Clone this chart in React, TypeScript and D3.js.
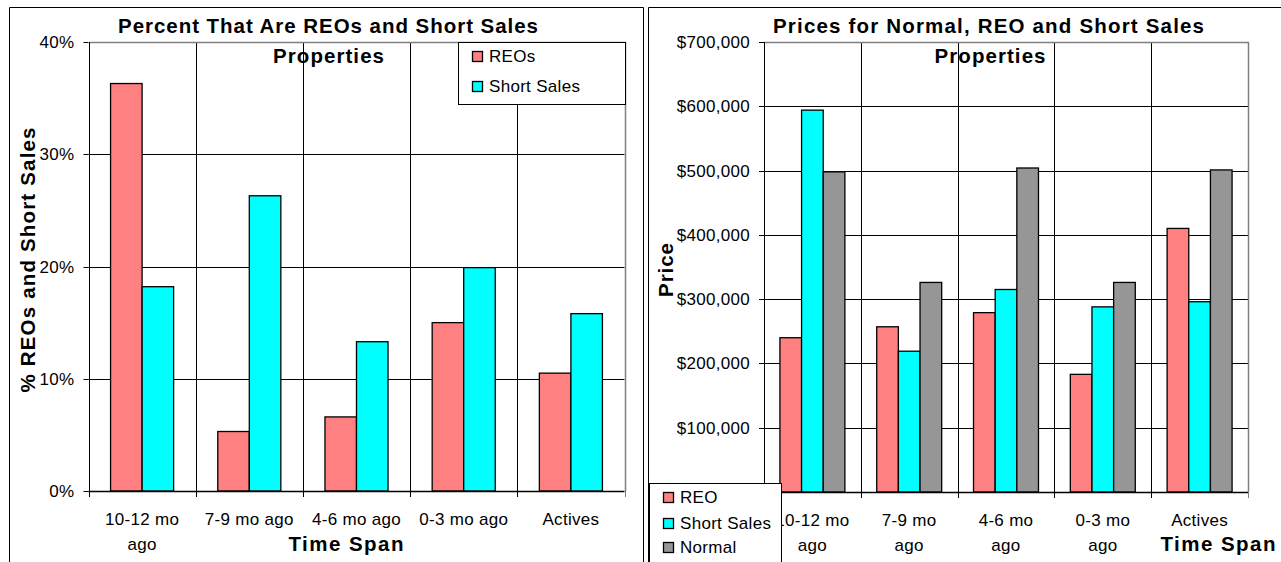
import * as d3 from "d3";

// Time spans along the x axis
const categories = ["10-12 mo ago", "7-9 mo ago", "4-6 mo ago", "0-3 mo ago", "Actives"];
const pctLabelLines = [["10-12 mo", "ago"], ["7-9 mo ago"], ["4-6 mo ago"], ["0-3 mo ago"], ["Actives"]];
const priceLabelLines = [["10-12 mo", "ago"], ["7-9 mo", "ago"], ["4-6 mo", "ago"], ["0-3 mo", "ago"], ["Actives"]];

// Left chart: percent of properties
const reoPct = [36.3, 5.3, 6.6, 15.0, 10.5];
const shortPct = [18.2, 26.3, 13.3, 19.9, 15.8];
const pctTicks = [0, 10, 20, 30, 40];

// Right chart: prices
const reoPrice = [240000, 257000, 279000, 183000, 410000];
const shortPrice = [594000, 219000, 315000, 288000, 296000];
const normalPrice = [498000, 326000, 504000, 326000, 501000];
const priceTicks = [0, 100000, 200000, 300000, 400000, 500000, 600000, 700000];

const REO = "#ff8080";
const SHORT = "#00ffff";
const NORMAL = "#969696";
const FONT = "'Liberation Sans', Arial, sans-serif";

type Series = { name: string; values: number[]; color: string };

type PanelProps = {
  frameLeft: number;
  frameRight: number;
  left: number;
  right: number;
  top: number;
  bottom: number;
  domain: [number, number];
  ticks: number[];
  fmt: (v: number) => string;
  series: Series[];
  groupPad: number;
  labelLines: string[][];
  labelBase: [number, number];
  title: string;
  titleX: number;
  titleW: number;
  subX: number;
  yLabel: string;
  yLabelX: number;
  yLabelY: number;
  yLabelW: number;
  spanX: number;
  legend: { x: number; y: number; w: number; h: number; rows: number[]; names: string[] };
};

const px = (v: number) => Math.round(v) + 0.5;

function BarPanel(p: PanelProps) {
  const x0 = d3.scaleBand().domain(categories).range([p.left, p.right]).padding(0);
  const x1 = d3
    .scaleBand()
    .domain(p.series.map((s) => s.name))
    .range([0, x0.bandwidth()])
    .paddingInner(0)
    .paddingOuter(p.groupPad);
  const y = d3.scaleLinear().domain(p.domain).range([p.bottom, p.top]);
  const edges = categories.map((c) => x0(c)!).concat([p.right]);

  return (
    <g fontFamily={FONT}>
      {/* outer chart frame */}
      <path
        d={`M${px(p.frameLeft)},600V${px(7)}H${px(p.frameRight)}V600`}
        fill="none"
        stroke="#000"
        strokeWidth={1}
      />

      {/* horizontal gridlines */}
      {p.ticks.slice(1, -1).map((t) => (
        <line key={"h" + t} x1={p.left} x2={p.right} y1={px(y(t))} y2={px(y(t))} stroke="#000" strokeWidth={1} />
      ))}
      {/* vertical gridlines + ticks below axis */}
      {edges.map((e, i) => (
        <line
          key={"v" + i}
          x1={px(e)}
          x2={px(e)}
          y1={y(p.domain[1])}
          y2={p.bottom + 6}
          stroke={i === edges.length - 1 ? "#808080" : "#000"}
          strokeWidth={1}
        />
      ))}
      {/* plot area border top + right */}
      <path
        d={`M${px(p.left)},${px(p.top)}H${px(p.right)}V${px(p.bottom)}`}
        fill="none"
        stroke="#808080"
        strokeWidth={1.5}
      />

      {/* bars */}
      {p.series.map((s) =>
        s.values.map((v, i) => (
          <rect
            key={s.name + i}
            x={x0(categories[i])! + x1(s.name)!}
            y={y(v)}
            width={x1.bandwidth()}
            height={y(0) - y(v)}
            fill={s.color}
            stroke="#000"
            strokeWidth={1.3}
          />
        ))
      )}

      {/* axes */}
      <line x1={px(p.left)} x2={px(p.left)} y1={p.top} y2={p.bottom} stroke="#000" strokeWidth={1} />
      <line x1={p.left} x2={p.right} y1={px(p.bottom)} y2={px(p.bottom)} stroke="#000" strokeWidth={1.3} />
      {p.ticks.map((t) => (
        <g key={"t" + t}>
          <line x1={p.left - 5} x2={p.left} y1={px(y(t))} y2={px(y(t))} stroke="#000" strokeWidth={1} />
          <text x={p.left - 14} y={y(t) + 6} textAnchor="end" fontSize={17} letterSpacing={0.3} fill="#000">
            {p.fmt(t)}
          </text>
        </g>
      ))}

      {/* x labels */}
      {p.labelLines.map((lines, i) =>
        lines.map((l, j) => (
          <text
            key={"x" + i + j}
            x={x0(categories[i])! + x0.bandwidth() / 2}
            y={p.labelBase[j]}
            textAnchor="middle"
            fontSize={17}
            letterSpacing={0.3}
            fill="#000"
          >
            {l}
          </text>
        ))
      )}

      {/* titles */}
      <text x={p.titleX} y={33} textAnchor="middle" fontSize={20.5} fontWeight="bold" textLength={p.titleW} lengthAdjust="spacing">
        {p.title}
      </text>
      <text x={p.subX} y={63} textAnchor="middle" fontSize={20.5} fontWeight="bold" textLength={111} lengthAdjust="spacing">
        Properties
      </text>
      <text
        transform={`translate(${p.yLabelX},${p.yLabelY}) rotate(-90)`}
        textAnchor="middle"
        fontSize={20.5}
        fontWeight="bold"
        textLength={p.yLabelW}
        lengthAdjust="spacing"
      >
        {p.yLabel}
      </text>
      <text x={p.spanX} y={551} textAnchor="middle" fontSize={20.5} fontWeight="bold" textLength={115} lengthAdjust="spacing">
        Time Span
      </text>

      {/* legend */}
      <rect x={px(p.legend.x)} y={px(p.legend.y)} width={p.legend.w} height={p.legend.h} fill="#fff" stroke="#000" strokeWidth={1} />
      {p.legend.names.map((n, i) => {
        const s = p.series[i];
        const cy = p.legend.rows[i];
        return (
          <g key={"l" + n}>
            <rect x={px(p.legend.x + 14)} y={px(cy - 5)} width={10} height={10} fill={s.color} stroke="#000" strokeWidth={1.3} />
            <text x={p.legend.x + 31} y={cy + 6} fontSize={17} letterSpacing={0.3} fill="#000">
              {n}
            </text>
          </g>
        );
      })}
    </g>
  );
}

export default function App() {
  const dollar = d3.format("$,.0f");
  return (
    <svg
      width={1281}
      height={562}
      viewBox="0 0 1281 562"
      style={{ position: "absolute", left: 0, top: 0, background: "#fff" }}
    >
      <rect width={1281} height={562} fill="#fff" />
      <BarPanel
        frameLeft={9}
        frameRight={643}
        left={88.5}
        right={624.5}
        top={42}
        bottom={491}
        domain={[0, 40]}
        ticks={pctTicks}
        fmt={(v) => v + "%"}
        series={[
          { name: "REOs", values: reoPct, color: REO },
          { name: "Short Sales", values: shortPct, color: SHORT },
        ]}
        groupPad={0.7}
        labelLines={pctLabelLines}
        labelBase={[525, 550]}
        title="Percent That Are REOs and Short Sales"
        titleX={328}
        titleW={420}
        subX={328.5}
        yLabel="% REOs and Short Sales"
        yLabelX={35}
        yLabelY={260}
        yLabelW={265}
        spanX={346}
        legend={{ x: 458, y: 42, w: 167, h: 62, rows: [56, 86], names: ["REOs", "Short Sales"] }}
      />
      <BarPanel
        frameLeft={648}
        frameRight={1300}
        left={764}
        right={1248}
        top={42}
        bottom={492}
        domain={[0, 700000]}
        ticks={priceTicks}
        fmt={(v) => dollar(v)}
        series={[
          { name: "REO", values: reoPrice, color: REO },
          { name: "Short Sales", values: shortPrice, color: SHORT },
          { name: "Normal", values: normalPrice, color: NORMAL },
        ]}
        groupPad={0.735}
        labelLines={priceLabelLines}
        labelBase={[526, 551]}
        title="Prices for Normal, REO and Short  Sales"
        titleX={988.5}
        titleW={431}
        subX={990}
        yLabel="Price"
        yLabelX={673}
        yLabelY={270}
        yLabelW={54}
        spanX={1218}
        legend={{ x: 649, y: 483, w: 132, h: 120, rows: [497, 523, 547], names: ["REO", "Short Sales", "Normal"] }}
      />
    </svg>
  );
}
